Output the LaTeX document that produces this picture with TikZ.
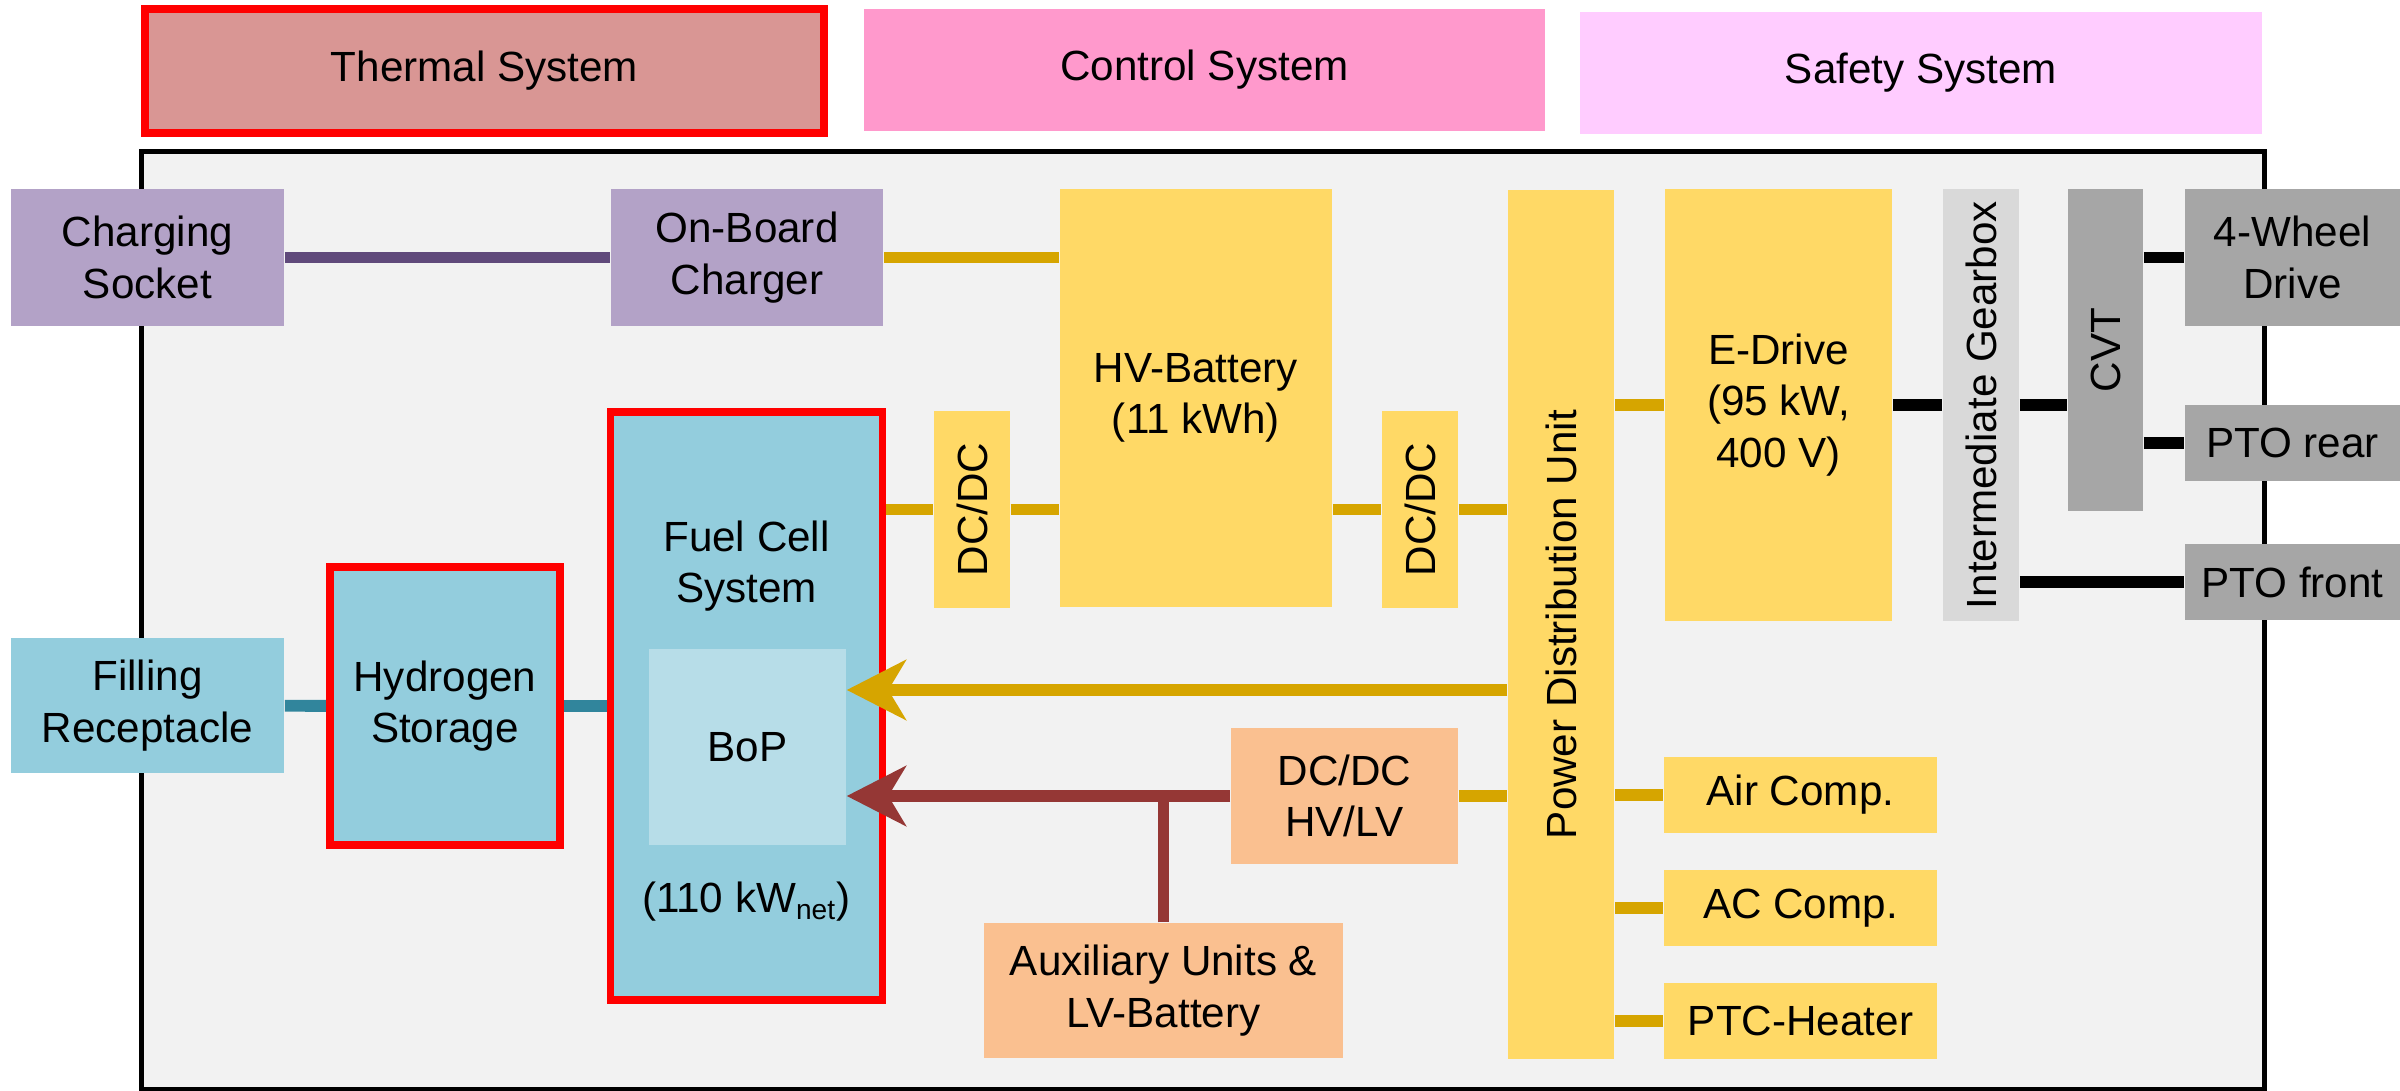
\documentclass[tikz,border=0pt]{standalone}
\usepackage{fontspec}
\setmainfont{Liberation Sans}
\usepackage{graphicx}
\usetikzlibrary{arrows.meta, backgrounds}

\definecolor{bgframe}{HTML}{F2F2F2}
\definecolor{chgfill}{HTML}{B3A2C7}
\definecolor{chgline}{HTML}{604A7B}
\definecolor{hvfill}{HTML}{FFD966}
\definecolor{hvline}{HTML}{D6A500}
\definecolor{hfill}{HTML}{93CDDD}
\definecolor{bopfill}{HTML}{B7DDE8}
\definecolor{hline}{HTML}{31859C}
\definecolor{lvfill}{HTML}{FAC090}
\definecolor{lvline}{HTML}{953735}
\definecolor{mechfill}{HTML}{A6A6A6}
\definecolor{gearfill}{HTML}{D9D9D9}
\definecolor{thermfill}{HTML}{D99694}
\definecolor{ctrlfill}{HTML}{FF99CC}
\definecolor{safefill}{HTML}{FFCCFF}

\begin{document}
\begin{tikzpicture}[
  x=0.01cm, y=-0.01cm,
  every node/.style={font=\fontsize{12}{14.6}\selectfont},
  box/.style={rectangle, align=center, inner sep=0pt},
  size/.style 2 args={minimum width=#1, minimum height=#2},
  chgbox/.style={box, fill=chgfill},
  hvbox/.style={box, fill=hvfill},
  hbox/.style={box, fill=hfill},
  lvbox/.style={box, fill=lvfill},
  mechbox/.style={box, fill=mechfill},
  redrim/.style={draw=red, line width=2.2pt},
  conn/.style={line width=3.4pt},
  chg/.style={conn, draw=chgline},
  hv/.style={conn, draw=hvline},
  htwo/.style={conn, draw=hline},
  lv/.style={conn, draw=lvline},
  mech/.style={conn, draw=black},
  feed/.style={-{Stealth[length=16.8pt, width=17pt, inset=5pt]}}
]
\useasboundingbox (0,0) rectangle (2400,1091);

% subsystem headers
\node[box, fill=thermfill, redrim, size={6.79cm}{1.24cm}] (thermal) at (484.5,71) {Thermal System};
\node[box, fill=ctrlfill, size={6.81cm}{1.22cm}] (control) at (1204.5,70) {Control System};
\node[box, fill=safefill, size={6.82cm}{1.22cm}] (safety) at (1921,73) {Safety System};

% charging path
\node[chgbox, size={2.73cm}{1.37cm}] (socket) at (147.5,257.5) {Charging\\Socket};
\node[chgbox, size={2.72cm}{1.37cm}] (obc) at (747,257.5) {On-Board\\Charger};

% high voltage path
\node[hvbox, size={2.72cm}{4.18cm}] (hvbat) at (1196,398) {HV-Battery\\(11 kWh)};
\node[hvbox, size={0.76cm}{1.97cm}] (dcdcl) at (972,509.5) {\rotatebox{90}{DC/DC}};
\node[hvbox, size={0.76cm}{1.97cm}] (dcdcr) at (1420,509.5) {\rotatebox{90}{DC/DC}};
\node[hvbox, size={1.06cm}{8.69cm}] (pdu) at (1561,624.5) {\rotatebox{90}{Power Distribution Unit}};
\node[hvbox, size={2.27cm}{4.32cm}] (edrive) at (1778.5,405) {E-Drive\\(95 kW,\\400 V)};
\node[hvbox, size={2.73cm}{0.76cm}] (aircomp) at (1800.5,795) {Air Comp.};
\node[hvbox, size={2.73cm}{0.76cm}] (accomp) at (1800.5,908) {AC Comp.};
\node[hvbox, size={2.73cm}{0.76cm}] (ptc) at (1800.5,1021) {PTC-Heater};

% drivetrain
\node[box, fill=gearfill, size={0.76cm}{4.32cm}] (gearbox) at (1981,405) {\rotatebox{90}{Intermediate Gearbox}};
\node[mechbox, size={0.75cm}{3.22cm}] (cvt) at (2105.5,350) {\rotatebox{90}{CVT}};
\node[mechbox, size={2.15cm}{1.37cm}] (awd) at (2292.5,257.5) {4-Wheel\\Drive};
\node[mechbox, size={2.15cm}{0.76cm}] (ptorear) at (2292.5,443) {PTO rear};
\node[mechbox, size={2.15cm}{0.76cm}] (ptofront) at (2292.5,582) {PTO front};

% hydrogen path
\node[hbox, size={2.73cm}{1.35cm}] (filling) at (147.5,705.5) {Filling\\Receptacle};
\node[hbox, redrim, size={2.30cm}{2.78cm}] (hstore) at (445,706) {Hydrogen\\Storage};
\node[hbox, redrim, size={2.72cm}{5.88cm}] (fcs) at (746.5,706) {};
\node[box] (fcslabel) at (746.5,566) {Fuel Cell\\System};
\node[box, fill=bopfill, size={1.97cm}{1.96cm}] (bop) at (747.5,747) {BoP};
\node[box] (fcspower) at (746.5,902) {(110 kW\textsubscript{net})};

% low voltage path
\node[lvbox, size={2.27cm}{1.36cm}] (lvdcdc) at (1344.5,796) {DC/DC\\HV/LV};
\node[lvbox, size={3.59cm}{1.35cm}] (aux) at (1163.5,990.5) {Auxiliary Units \&\\LV-Battery};

\begin{scope}[on background layer]
  \node[box, fill=bgframe, draw=black, line width=1.4pt, size={21.22cm}{9.37cm}] (vehicle) at (1203,620.5) {};
  \draw[chg] (socket) -- (obc);
  \draw[hv] (obc.east) -- (obc.east -| hvbat.west);
  \draw[hv] (dcdcl.west -| fcs.east) -- (dcdcl.west);
  \draw[hv] (dcdcl.east) -- (dcdcl.east -| hvbat.west);
  \draw[hv] (dcdcr.west -| hvbat.east) -- (dcdcr.west);
  \draw[hv] (dcdcr.east) -- (dcdcr.east -| pdu.west);
  \draw[hv] (edrive.west -| pdu.east) -- (edrive.west);
  \draw[hv] (lvdcdc.east) -- (lvdcdc.east -| pdu.west);
  \draw[hv] (aircomp.west -| pdu.east) -- (aircomp.west);
  \draw[hv] (accomp.west -| pdu.east) -- (accomp.west);
  \draw[hv] (ptc.west -| pdu.east) -- (ptc.west);
  \draw[mech] (edrive) -- (gearbox);
  \draw[mech] (gearbox.east |- edrive) -- (cvt.west |- edrive);
  \draw[mech] (awd.west -| cvt.east) -- (awd.west);
  \draw[mech] (ptorear.west -| cvt.east) -- (ptorear.west);
  \draw[mech] (ptofront.west -| gearbox.east) -- (ptofront.west);
  \draw[htwo] (filling) -- (hstore);
  \draw[htwo] (hstore) -- (fcs);
  \draw[lv] (aux.north) -- (aux.north |- lvdcdc.west);
\end{scope}

% supply of the balance of plant
\draw[hv, feed] ([yshift=0.57cm]bop.east -| pdu.west) -- ([yshift=0.57cm]bop.east);
\draw[lv, feed] (lvdcdc.west) -- (lvdcdc.west -| bop.east);

\end{tikzpicture}
\end{document}
